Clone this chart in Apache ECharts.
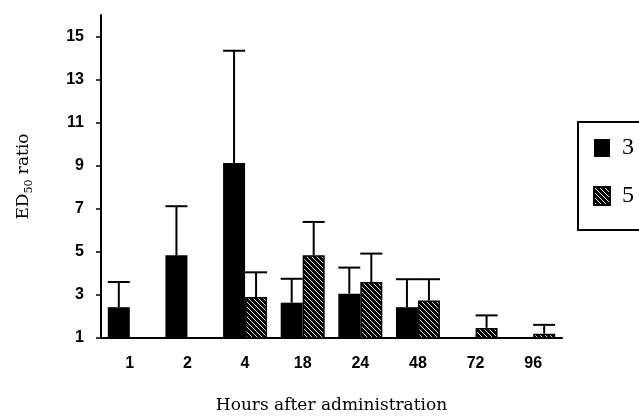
<!DOCTYPE html>
<html><head><meta charset="utf-8">
<script src="https://cdn.jsdelivr.net/npm/echarts@6/dist/echarts.min.js"></script>
<style>html,body{margin:0;padding:0;background:#fff}#c{width:639px;height:416px}</style>
</head><body><div id="c"></div>
<script>
// ---- data ----
const categories = ['1', '2', '4', '18', '24', '48', '72', '96'];
const yTicks = [1, 3, 5, 7, 9, 11, 13, 15];
const means3 = [2.43, 4.84, 9.13, 2.64, 3.06, 2.43, null, null];
const upper3 = [3.6, 7.12, 14.34, 3.75, 4.27, 3.73, null, null];
const means5 = [null, null, 2.9, 4.84, 3.6, 2.74, 1.47, 1.2];
const upper5 = [null, null, 4.05, 6.39, 4.92, 3.73, 2.05, 1.61];

const BW = 22;
const SERIF = 'DejaVu Serif';

function hatch() {
  const c = document.createElement('canvas');
  c.width = 5; c.height = 5;
  const g = c.getContext('2d');
  g.fillStyle = '#000'; g.fillRect(0, 0, 5, 5);
  g.strokeStyle = '#fff'; g.lineWidth = 0.9;
  for (const k of [-5, 0, 5]) {
    g.beginPath(); g.moveTo(k, 0); g.lineTo(k + 5, 5); g.stroke();
  }
  return c;
}

function errSeries(m, u, side) {
  const data = [];
  categories.forEach((c, i) => { if (m[i] != null) data.push([i, m[i], u[i]]); });
  return {
    type: 'custom', silent: true, z: 5, xAxisIndex: 0,
    data: data,
    encode: { x: 0, y: [1, 2] },
    renderItem(params, api) {
      const base = api.coord([api.value(0), api.value(1)]);
      const top = api.coord([api.value(0), api.value(2)]);
      const x = base[0] + side * BW / 2;
      const st = { stroke: '#000', lineWidth: 2 };
      return { type: 'group', children: [
        { type: 'line', shape: { x1: x, y1: base[1], x2: x, y2: top[1] }, style: st },
        { type: 'line', shape: { x1: x - BW / 2, y1: top[1], x2: x + BW / 2, y2: top[1] }, style: st }
      ] };
    }
  };
}

const chart = echarts.init(document.getElementById('c'));
const tickStyle = { color: '#000', width: 1.5 };
chart.setOption({
  animation: false,
  backgroundColor: '#fff',
  grid: { left: 101, right: 77, top: 15, bottom: 78, outerBoundsMode: 'none', containLabel: false },
  legend: {
    orient: 'vertical', left: 578, top: 122,
    data: ['3', '5'], icon: 'rect',
    itemWidth: 16, itemHeight: 18, itemGap: 24,
    padding: [14, 20, 22, 15],
    borderColor: '#000', borderWidth: 2,
    textStyle: { fontFamily: 'Liberation Serif', fontSize: 24, color: '#000', lineHeight: 18, padding: [0, 0, 0, 7] }
  },
  xAxis: [{
    type: 'category', data: categories,
    axisLine: { lineStyle: { color: '#000', width: 2 } },
    axisTick: { length: 7, lineStyle: tickStyle },
    axisLabel: { color: '#000', fontFamily: 'Liberation Sans', fontWeight: 'bold', fontSize: 16, margin: 18 },
    name: 'Hours after administration', nameLocation: 'middle', nameGap: 59,
    nameTextStyle: { fontFamily: SERIF, fontSize: 17, color: '#000' }
  }, {
    type: 'category', data: categories, position: 'bottom',
    axisLine: { show: false },
    axisTick: { inside: true, length: 6, lineStyle: tickStyle },
    axisLabel: { show: false }
  }],
  yAxis: {
    type: 'value', min: 1, max: 16,
    splitLine: { show: false },
    axisLine: { show: true, lineStyle: { color: '#000', width: 2 } },
    axisTick: { show: true, length: 5, customValues: yTicks, lineStyle: tickStyle },
    axisLabel: { customValues: yTicks, color: '#000', fontFamily: 'Liberation Sans', fontWeight: 'bold', fontSize: 16, margin: 17 },
    name: '{a|ED}{b|50}{a| ratio}', nameLocation: 'middle', nameRotate: 90, nameGap: 66,
    nameTextStyle: {
      color: '#000',
      rich: {
        a: { fontFamily: SERIF, fontSize: 17, lineHeight: 22, color: '#000' },
        b: { fontFamily: SERIF, fontSize: 11, lineHeight: 12, verticalAlign: 'bottom', color: '#000' }
      }
    }
  },
  series: [
    { name: '3', type: 'bar', data: means3, barWidth: BW, barGap: '0%', itemStyle: { color: '#000' } },
    { name: '5', type: 'bar', data: means5, barWidth: BW,
      itemStyle: { color: { image: hatch(), repeat: 'repeat' }, borderColor: '#000', borderWidth: 1.5 } },
    errSeries(means3, upper3, -1),
    errSeries(means5, upper5, 1)
  ]
});
</script>
</body></html>
